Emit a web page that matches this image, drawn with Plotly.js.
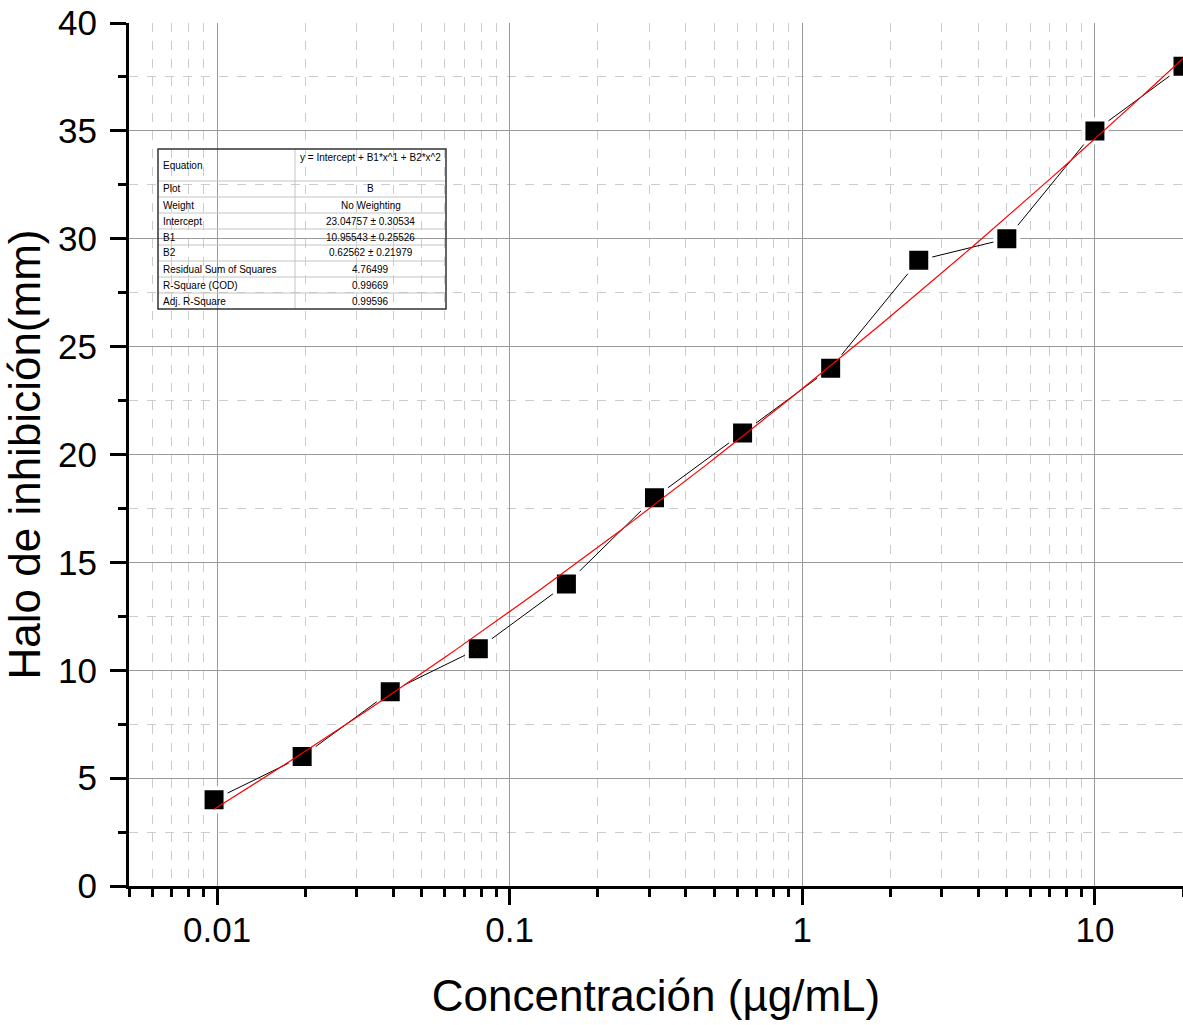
<!DOCTYPE html>
<html><head><meta charset="utf-8">
<script src="https://cdn.plot.ly/plotly-3.0.1.min.js"></script>
<style>body{margin:0;background:#fff}</style>
</head><body><div id="chart" style="width:1183px;height:1025px"></div>
<script>
// ---- data ----
const concentration = [0.009765625, 0.01953125, 0.0390625, 0.078125, 0.15625, 0.3125, 0.625, 1.25, 2.5, 5, 10, 20];
const halo = [4, 6, 9, 11, 14, 18, 21, 24, 29, 30, 35, 38];
const fitIntercept = 23.04757;
const fitB1 = 10.95543;
const fitB2 = 0.62562;
const tableLabels = ["Equation", "Plot", "Weight", "Intercept", "B1", "B2", "Residual Sum of Squares", "R-Square (COD)", "Adj. R-Square"];
const tableValues = ["y = Intercept + B1*x^1 + B2*x^2", "B", "No Weighting", "23.04757 \u00b1 0.30534", "10.95543 \u00b1 0.25526", "0.62562 \u00b1 0.21979", "4.76499", "0.99669", "0.99596"];
const xTickVals = [0.01, 0.1, 1, 10];
const xTickText = ["0.01", "0.1", "1", "10"];

// fitted curve from the table's coefficients (x = log10 concentration)
const fitX = [], fitY = [];
const l0 = Math.log10(concentration[0]), l1 = Math.log10(concentration[concentration.length - 1]);
for (let i = 0; i <= 120; i++) {
  const L = l0 + (l1 - l0) * i / 120;
  fitX.push(Math.pow(10, L));
  fitY.push(fitIntercept + fitB1 * L + fitB2 * L * L);
}

// ---- layout helpers (pixel -> paper) ----
const W = 1183, H = 1025, ML = 129, MR = 0, MT = 23, MB = 139;
const px = x => (x - ML) / (W - ML - MR);
const py = y => (H - MB - y) / (H - MT - MB);

const FONT = "Liberation Sans, Arial, Helvetica, sans-serif";
const shapes = [], annotations = [];
const tL = 158, tR = 446, tM = 295, tT = 149, tB = 309, eqB = 181;
const rowH = (tB - eqB) / (tableLabels.length - 1);
// inner lines
for (let i = 0; i < tableLabels.length - 1; i++) {
  const y = eqB + i * rowH;
  shapes.push({type: 'line', xref: 'paper', yref: 'paper', x0: px(tL), x1: px(tR), y0: py(y), y1: py(y), line: {color: '#c4c4c4', width: 1}});
}
shapes.push({type: 'line', xref: 'paper', yref: 'paper', x0: px(tM), x1: px(tM), y0: py(tT), y1: py(tB), line: {color: '#c4c4c4', width: 1}});
shapes.push({type: 'rect', xref: 'paper', yref: 'paper', x0: px(tL), x1: px(tR), y0: py(tT), y1: py(tB), line: {color: '#333', width: 1.5}});
tableLabels.forEach((lab, i) => {
  const yc = i === 0 ? (tT + eqB) / 2 + 1 : eqB + (i - 0.5) * rowH;
  annotations.push({xref: 'paper', yref: 'paper', x: px(tL + 3), y: py(yc), xanchor: 'left', yanchor: 'middle', text: lab, showarrow: false, font: {family: FONT, size: 10, color: '#000'}});
  const yv = i === 0 ? tT + 8 : yc;
  annotations.push({xref: 'paper', yref: 'paper', x: px((tM + tR) / 2), y: py(yv), xanchor: 'center', yanchor: 'middle', text: tableValues[i], showarrow: false, font: {family: FONT, size: 10, color: '#000'}});
});

const traces = [
  {x: concentration, y: halo, type: 'scatter', mode: 'lines+markers', name: 'B',
   line: {color: '#000', width: 1},
   marker: {symbol: 'square', size: 23, color: '#000', line: {color: '#fff', width: 4}},
   cliponaxis: false},
  {x: fitX, y: fitY, type: 'scatter', mode: 'lines', name: 'fit',
   line: {color: '#ff0000', width: 1.2}}
];

const layout = {
  width: W, height: H,
  margin: {l: ML, r: MR, t: MT, b: MB},
  paper_bgcolor: '#fff', plot_bgcolor: '#fff',
  showlegend: false,
  font: {family: FONT, color: '#000'},
  xaxis: {
    type: 'log', range: [Math.log10(0.005), Math.log10(20)],
    tickmode: 'array', tickvals: xTickVals, ticktext: xTickText,
    ticks: 'outside', ticklen: 16, tickwidth: 3, tickcolor: '#000',
    showline: true, linewidth: 3, linecolor: '#000',
    showgrid: true, gridcolor: '#9a9a9a', gridwidth: 1,
    zeroline: false,
    tickfont: {family: FONT, size: 35, color: '#000'},
    ticklabelstandoff: -5,
    minor: {ticks: 'outside', ticklen: 8, tickwidth: 3, tickcolor: '#000', dtick: 'D1',
            showgrid: true, gridcolor: '#cccccc', griddash: 'dash', gridwidth: 1},
    title: {text: 'Concentración (µg/mL)', font: {family: FONT, size: 44, color: '#000'}, standoff: 33}
  },
  yaxis: {
    range: [0, 40], dtick: 5, tick0: 0,
    ticks: 'outside', ticklen: 16, tickwidth: 3, tickcolor: '#000',
    showline: true, linewidth: 3, linecolor: '#000',
    showgrid: true, gridcolor: '#9a9a9a', gridwidth: 1,
    zeroline: false,
    tickfont: {family: FONT, size: 35, color: '#000'},
    ticklabelstandoff: 6,
    minor: {ticks: 'outside', ticklen: 8, tickwidth: 3, tickcolor: '#000', dtick: 2.5,
            showgrid: true, gridcolor: '#cccccc', griddash: 'dash', gridwidth: 1},
    title: {text: 'Halo de inhibición(mm)', font: {family: FONT, size: 44, color: '#000'}, standoff: 8}
  },
  shapes: shapes,
  annotations: annotations
};

Plotly.newPlot('chart', traces, layout, {displayModeBar: false, staticPlot: true});
</script>
</body></html>
